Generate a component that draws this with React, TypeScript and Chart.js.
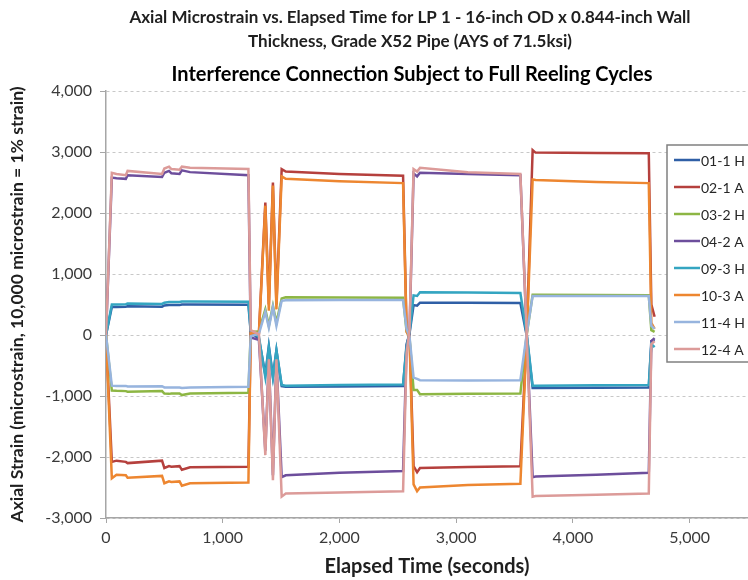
import React, { useEffect, useRef } from 'react';
import { Chart, registerables } from 'chart.js';

Chart.register(...registerables);

const FONT = 'Lato, "Open Sans", sans-serif';

// ---- Text ----
const titleLines = [
  'Axial Microstrain vs. Elapsed Time for LP 1 - 16-inch OD x 0.844-inch Wall',
  'Thickness, Grade X52 Pipe (AYS of 71.5ksi)',
];
const subtitleText = 'Interference Connection Subject to Full Reeling Cycles';
const xAxisTitle = 'Elapsed Time (seconds)';
const yAxisTitle = 'Axial Strain (microstrain, 10,000 microstrain = 1% strain)';

// ---- Ticks ----
const xTickValues = [0, 1000, 2000, 3000, 4000, 5000];
const yTickValues = [-3000, -2000, -1000, 0, 1000, 2000, 3000, 4000];

// ---- Series ----
const seriesNames = ['01-1 H', '02-1 A', '03-2 H', '04-2 A', '09-3 H', '10-3 A', '11-4 H', '12-4 A'];
const seriesColors = ['#2F5FA6', '#B5403D', '#8DB644', '#6D4E9C', '#34A5C1', '#ED8630', '#97B4DE', '#DC9B99'];

const elapsedTime = [
  0, 50, 90, 170, 185, 480, 500, 540, 560, 630, 650, 720, 1220,
  1240, 1310, 1365, 1395, 1430, 1460, 1505, 1540,
  2000, 2545,
  2575, 2600, 2635, 2665, 2690,
  3100, 3550,
  3605, 3655, 3680,
  4200, 4650,
  4672, 4700,
];

const gauge01_1H = [
  0, 460, 460, 465, 470, 465, 485, 490, 490, 490, 500, 500, 495,
  40, -60, -650, -180, -680, -250, -840, -850,
  -845, -835,
  -150, 20, 490, 480, 530,
  530, 525,
  -20, -870, -870,
  -865, -860,
  -100, -80,
];
const gauge02_1A = [
  0, -2080, -2060, -2080, -2100, -2060, -2180, -2150, -2160, -2150, -2210, -2170, -2160,
  60, 40, 2170, 500, 2500, 500, 2720, 2680,
  2640, 2610,
  100, 20, -2150, -2250, -2180,
  -2165, -2150,
  50, 3030, 2990,
  2985, 2980,
  500, 300,
];
const gauge03_2H = [
  0, -910, -915, -920, -930, -920, -960, -965, -960, -960, -985, -960, -945,
  40, 60, 420, 150, 480, 200, 600, 620,
  615, 610,
  60, -40, -900, -900, -970,
  -965, -960,
  20, 660, 660,
  655, 650,
  80, 50,
];
const gauge04_2A = [
  0, 2580, 2570, 2560, 2620, 2590, 2660, 2690, 2650, 2640, 2700, 2670, 2620,
  -40, -80, -1900, -400, -2300, -400, -2330, -2300,
  -2260, -2230,
  -200, 40, 2650, 2600, 2660,
  2640, 2620,
  -30, -2330, -2320,
  -2290, -2260,
  -100, -50,
];
const gauge09_3H = [
  0, 500, 500, 505, 515, 510, 530, 540, 540, 540, 550, 550, 545,
  60, -30, -690, -200, -700, -250, -820, -830,
  -820, -810,
  -200, 40, 650, 640, 700,
  695, 690,
  0, -830, -830,
  -825, -820,
  -150, -200,
];
const gauge10_3A = [
  0, -2350, -2290, -2300, -2340, -2310, -2430, -2400, -2410, -2400, -2470, -2430, -2420,
  30, 20, 2120, 400, 2450, 420, 2600, 2560,
  2520, 2490,
  50, -30, -2450, -2560, -2500,
  -2460, -2440,
  0, 2550, 2540,
  2510, 2490,
  200, 100,
];
const gauge11_4H = [
  0, -830, -835, -835, -845, -840, -860, -860, -860, -860, -870, -860, -850,
  -20, 20, 380, 120, 460, 150, 560, 570,
  572, 575,
  100, -20, -700, -720, -740,
  -745, -740,
  30, 640, 640,
  640, 640,
  150, 100,
];
const gauge12_4A = [
  0, 2660, 2640, 2620, 2690, 2640, 2730, 2760, 2720, 2710, 2760, 2740, 2720,
  80, 10, -1970, -400, -2380, -400, -2650, -2600,
  -2580, -2560,
  -300, 80, 2720, 2680, 2740,
  2670, 2640,
  -20, -2650, -2640,
  -2620, -2600,
  -150, -100,
];

const seriesValues = [gauge01_1H, gauge02_1A, gauge03_2H, gauge04_2A, gauge09_3H, gauge10_3A, gauge11_4H, gauge12_4A];

const headerPlugin = {
  id: 'headerText',
  afterDraw(chart: any) {
    const ctx = chart.ctx;
    ctx.save();
    ctx.textAlign = 'center';
    ctx.textBaseline = 'middle';
    ctx.fillStyle = '#1f1f1f';
    ctx.font = `bold 17px ${FONT}`;
    titleLines.forEach((line, i) => ctx.fillText(line, 410, 18 + i * 24));
    ctx.fillStyle = '#000000';
    ctx.font = `bold 20px ${FONT}`;
    ctx.fillText(subtitleText, 412, 75);
    ctx.restore();
  },
};

const boxLegendPlugin = {
  id: 'boxLegend',
  afterDatasetsDraw(chart: any) {
    const ctx = chart.ctx;
    const left = 667;
    const top = 145;
    const width = 110;
    const height = 217;
    ctx.save();
    ctx.fillStyle = '#ffffff';
    ctx.fillRect(left, top, width, height);
    ctx.strokeStyle = '#808080';
    ctx.lineWidth = 1.5;
    ctx.strokeRect(left, top, width, height);
    ctx.font = `14px ${FONT}`;
    ctx.textAlign = 'left';
    ctx.textBaseline = 'middle';
    chart.data.datasets.forEach((ds: any, i: number) => {
      const y = top + 15 + i * 27;
      ctx.strokeStyle = ds.borderColor;
      ctx.lineWidth = 2.5;
      ctx.beginPath();
      ctx.moveTo(674, y);
      ctx.lineTo(700, y);
      ctx.stroke();
      ctx.fillStyle = '#262626';
      ctx.fillText(ds.label, 701, y + 1);
    });
    ctx.restore();
  },
};

const fmt = (v: any) => Number(v).toLocaleString('en-US');

export default function App() {
  const canvasRef = useRef<HTMLCanvasElement | null>(null);

  useEffect(() => {
    let chart: Chart | null = null;
    let cancelled = false;
    const build = () => {
      if (cancelled || !canvasRef.current) return;
      chart = new Chart(canvasRef.current, {
        type: 'line',
        data: {
          datasets: seriesNames.map((name, i) => ({
            label: name,
            data: elapsedTime.map((t, j) => ({ x: t, y: seriesValues[i][j] })),
            borderColor: seriesColors[i],
            backgroundColor: seriesColors[i],
            borderWidth: 2.5,
            pointRadius: 0,
            tension: 0,
            fill: false,
            order: -i,
          })),
        },
        options: {
          animation: false,
          responsive: false,
          devicePixelRatio: 1,
          layout: { padding: { top: 91, left: 0, right: 0, bottom: 0 } },
          plugins: {
            legend: { display: false },
            title: { display: false },
            tooltip: { enabled: false },
          },
          scales: {
            x: {
              type: 'linear',
              min: 0,
              max: 5500,
              afterBuildTicks: (s: any) => {
                s.ticks = xTickValues.map((v) => ({ value: v }));
              },
              afterFit: (s: any) => {
                s.height = 62;
              },
              ticks: {
                font: { family: FONT, size: 16 },
                color: '#3a3a3a',
                padding: 5,
                maxRotation: 0,
                autoSkip: false,
                callback: fmt,
              },
              grid: {
                drawOnChartArea: false,
                drawTicks: true,
                tickLength: 5,
                tickColor: '#A6A6A6',
                tickWidth: 1,
              },
              border: { display: true, color: '#A6A6A6', width: 1.5 },
              title: {
                display: true,
                text: xAxisTitle,
                font: { family: FONT, size: 20, weight: 'bold' },
                color: '#1f1f1f',
                padding: { top: 1, bottom: 1 },
              },
            },
            y: {
              type: 'linear',
              min: -3000,
              max: 4000,
              afterBuildTicks: (s: any) => {
                s.ticks = yTickValues.map((v) => ({ value: v }));
              },
              afterFit: (s: any) => {
                s.width = 106;
              },
              ticks: {
                font: { family: FONT, size: 16 },
                color: '#3a3a3a',
                padding: 8,
                autoSkip: false,
                callback: fmt,
              },
              grid: {
                color: '#C8C8C8',
                lineWidth: 1,
                drawTicks: true,
                tickLength: 6,
                tickColor: '#A6A6A6',
                tickWidth: 1,
                tickBorderDash: [],
              },
              border: { display: true, color: '#A6A6A6', width: 1.5, dash: [3, 3] },
              title: {
                display: true,
                text: yAxisTitle,
                font: { family: FONT, size: 17.5, weight: 'bold' },
                color: '#1f1f1f',
                padding: { top: 7, bottom: 7 },
              },
            },
          },
        } as any,
        plugins: [boxLegendPlugin, headerPlugin],
      });
    };
    const fonts = (document as any).fonts;
    if (fonts && fonts.load) {
      Promise.all([
        fonts.load(`14px Lato`),
        fonts.load(`bold 14px Lato`),
      ]).then(build, build);
    } else {
      build();
    }
    return () => {
      cancelled = true;
      if (chart) chart.destroy();
    };
  }, []);

  return (
    <div style={{ position: 'fixed', left: 0, top: 0, width: 748, height: 580, background: '#ffffff', overflow: 'hidden' }}>
      <canvas ref={canvasRef} width={748} height={580} />
    </div>
  );
}
